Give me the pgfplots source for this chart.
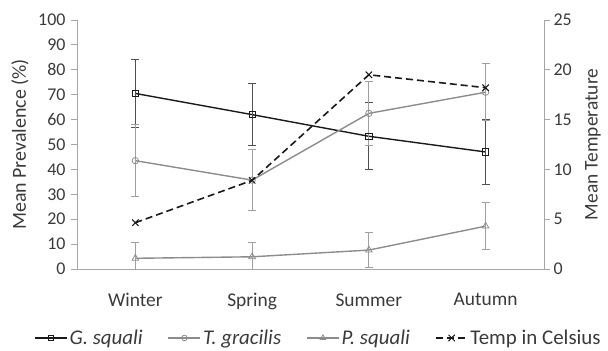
\documentclass[border=0pt]{standalone}
\usepackage{fontspec}
\setmainfont{Carlito}
\usepackage{pgfplots}
\pgfplotsset{compat=1.18}
\definecolor{axgray}{HTML}{A6A6A6}
\definecolor{txt}{HTML}{3A3A3A}
\definecolor{lgray}{HTML}{8C8C8C}
\definecolor{ebgray}{HTML}{A0A0A0}
\definecolor{dgray}{HTML}{505050}
\pgfplotsset{
  common/.style={
    scale only axis, width=467bp, height=249bp,
    at={(0,0)}, anchor=south west,
    xmin=0, xmax=4,
    /pgf/number format/assume math mode=true,
    axis line style={axgray, line width=0.9pt},
    tick style={axgray, line width=0.9pt},
    tick label style={font=\fontsize{18}{20}\selectfont, text=txt},
    tick align=outside,
    major tick length=6bp,
    legend image code/.code={\draw[mark repeat=2,mark phase=2] plot coordinates {(0bp,0bp) (16bp,0bp) (32bp,0bp)};},
  }
}
\begin{document}
\begin{tikzpicture}
\useasboundingbox (-77bp,-82bp) rectangle (531bp,269bp);
\begin{axis}[common,
  axis x line*=bottom, axis y line*=left,
  ymin=0, ymax=100, ytick={0,10,...,100},
  yticklabel style={xshift=-2bp},
  xtick={0.5,1.5,2.5,3.5},
  xticklabels={Winter,Spring,Summer,Autumn},
  xticklabel style={yshift=-15bp, font=\fontsize{19.5}{21}\selectfont},
  extra x ticks={0,1,2,3,4}, extra x tick labels={},
  extra x tick style={major tick length=6bp},
  ylabel={Mean Prevalence (\%)},
  every axis y label/.style={at={(axis description cs:-0.122,0.5)}, rotate=90, anchor=center, font=\fontsize{20}{22}\selectfont, text=txt},
]
\pgfplotsset{xtick style={draw=none}}
\addplot[line width=1.4pt, color=black!90, mark=square, mark size=3.2bp,
  mark options={solid, fill=white, line width=0.8pt},
  error bars/.cd, y dir=both, y explicit,
  error bar style={dgray, line width=1pt}, error mark options={rotate=90, mark size=4bp, dgray, line width=1pt}]
  coordinates {(0.5,70.5) +- (0,13.5) (1.5,62) +- (0,12.3) (2.5,53.3) +- (0,13.4) (3.5,47) +- (0,13)};
\addplot[line width=1.4pt, color=lgray, mark=o, mark size=3.2bp,
  mark options={solid, fill=white, line width=0.8pt},
  error bars/.cd, y dir=both, y explicit,
  error bar style={ebgray, line width=1pt}, error mark options={rotate=90, mark size=4bp, ebgray, line width=1pt}]
  coordinates {(0.5,43.5) +- (0,14.5) (1.5,35.7) +- (0,12.2) (2.5,62.5) +- (0,13) (3.5,71) +- (0,11.5)};
\addplot[line width=1.4pt, color=lgray, mark=triangle, mark size=3.8bp,
  mark options={solid, fill=white, line width=0.8pt},
  error bars/.cd, y dir=both, y explicit,
  error bar style={ebgray, line width=1pt}, error mark options={rotate=90, mark size=4bp, ebgray, line width=1pt}]
  coordinates {(0.5,4.3) +- (0,6.5) (1.5,4.9) +- (0,5.8) (2.5,7.6) +- (0,7) (3.5,17.2) +- (0,9.5)};
\end{axis}
\begin{axis}[common,
  axis x line=none, axis y line*=right,
  ymin=0, ymax=25, ytick={0,5,...,25},
  ylabel={Mean Temperature},
  every axis y label/.style={at={(axis description cs:1.105,0.5)}, rotate=90, anchor=center, font=\fontsize{19.5}{21}\selectfont, text=txt},
  legend columns=4,
  legend style={at={(axis description cs:0.517,-0.277)}, anchor=center, draw=none, fill=none,
    font=\fontsize{21}{23}\selectfont, text=txt, inner sep=0pt,
    /tikz/every even column/.append style={column sep=23bp}},
  legend cell align=left,
]
\addlegendimage{line width=1.4pt, color=black!90, mark=square, mark size=2.8bp, mark options={solid, fill=white, line width=0.8pt}}
\addlegendentry{\textit{G. squali}}
\addlegendimage{line width=1.4pt, color=lgray, mark=o, mark size=2.8bp, mark options={solid, fill=white, line width=0.8pt}}
\addlegendentry{\textit{T. gracilis}}
\addlegendimage{line width=1.4pt, color=lgray, mark=triangle, mark size=3.2bp, mark options={solid, fill=white, line width=0.8pt}}
\addlegendentry{\textit{P. squali}}
\addplot[line width=1.6pt, color=black!90, dash pattern=on 7bp off 4bp, mark=x, mark size=4.5bp,
  mark options={solid, line width=1pt}]
  coordinates {(0.5,4.65) (1.5,8.9) (2.5,19.5) (3.5,18.2)};
\addlegendentry{Temp in Celsius}
\end{axis}
\end{tikzpicture}
\end{document}
